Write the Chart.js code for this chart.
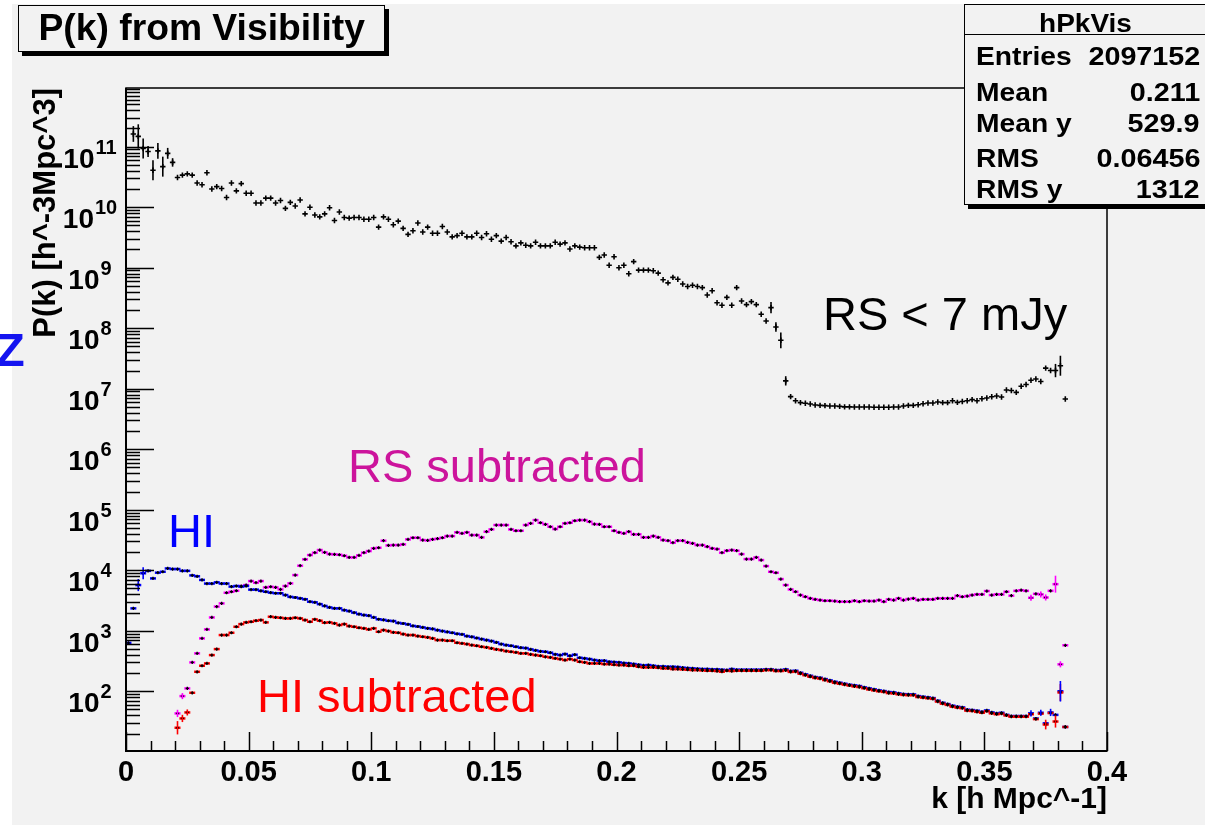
<!DOCTYPE html>
<html>
<head>
<meta charset="utf-8">
<script src="https://cdn.jsdelivr.net/npm/chart.js@4.4.1/dist/chart.umd.min.js"></script>
<style>
  html, body { margin: 0; padding: 0; background: #fff; }
  #wrap { position: relative; width: 1205px; height: 826px; overflow: hidden;
          font-family: "Liberation Sans", Arial, Helvetica, sans-serif; }
  #pk { position: absolute; left: 0; top: 0; }
  .box { position: absolute; background: #f2f2f2; border: 1.5px solid #000; box-shadow: 4px 4px 0 #000; }
  .txt { position: absolute; white-space: nowrap; }
  .stat { position: absolute; font-weight: bold; font-size: 25px; line-height: 25px; white-space: nowrap; }
  .lab { left: 976px; transform: scaleX(1.13); transform-origin: left center; }
  .val { right: 5px; transform: scaleX(1.15); transform-origin: right center; }
  .note { position: absolute; font-size: 47px; line-height: 47px; white-space: nowrap; }
</style>
</head>
<body>
<div id="wrap">
  <canvas id="pk" width="1205" height="826"></canvas>

  <div class="box" style="left:18px; top:5px; width:365px; height:45px;"></div>
  <div class="txt" style="left:18px; top:10px; width:368px; text-align:center; font-weight:bold; font-size:36px; line-height:36px;"><span style="display:inline-block; transform:scaleX(1.035);">P(k) from Visibility</span></div>

  <div class="box" style="left:964px; top:4px; width:260px; height:199px;"></div>
  <div style="position:absolute; left:964px; top:34px; width:260px; height:0; border-top:1.5px solid #000;"></div>
  <div class="stat" style="left:964px; width:242px; top:11px; text-align:center;"><span style="display:inline-block; transform:scaleX(1.12);">hPkVis</span></div>
  <div class="stat lab" style="top:44px;">Entries</div><div class="stat val" style="top:44px;">2097152</div>
  <div class="stat lab" style="top:80px;">Mean</div><div class="stat val" style="top:80px;">0.211</div>
  <div class="stat lab" style="top:111px;">Mean y</div><div class="stat val" style="top:111px;">529.9</div>
  <div class="stat lab" style="top:146px;">RMS</div><div class="stat val" style="top:146px;">0.06456</div>
  <div class="stat lab" style="top:177px;">RMS y</div><div class="stat val" style="top:177px;">1312</div>

  <div class="note" style="left:823px; top:290px; color:#000;">RS &lt; 7 mJy</div>
  <div class="note" style="left:348px; top:442px; color:#cc149c;">RS subtracted</div>
  <div class="note" style="left:168px; top:507px; color:#0000ff;">HI</div>
  <div class="note" style="left:257px; top:672px; color:#ff0000;">HI subtracted</div>
  <div class="note" style="left:-4px; top:326px; color:#1414f0; font-weight:bold;">Z</div>
</div>

<script>
// histogram binning in k [h Mpc^-1]
const kBinWidth = 0.002

// log10 P(k) per bin (null = empty bin)
const rsCutLog = [
  null, 11.21, 11.17, 10.97, 10.92, 10.61, 10.93, 10.67, 10.89, 10.74,
  10.49, 10.53, 10.55, 10.53, 10.40, 10.37, 10.57, 10.30, 10.34, 10.31,
  10.16, 10.40, 10.27, 10.39, 10.23, 10.23, 10.07, 10.07, 10.15, 10.15,
  10.07, 10.11, 9.98, 10.08, 10.02, 10.12, 9.89, 10.00, 9.87, 9.84,
  9.89, 9.99, 9.78, 9.92, 9.83, 9.82, 9.83, 9.83, 9.80, 9.80,
  9.83, 9.67, 9.84, 9.80, 9.71, 9.77, 9.65, 9.55, 9.61, 9.74,
  9.59, 9.67, 9.57, 9.57, 9.68, 9.59, 9.51, 9.53, 9.57, 9.51,
  9.51, 9.57, 9.50, 9.56, 9.47, 9.53, 9.44, 9.50, 9.43, 9.36,
  9.41, 9.37, 9.36, 9.42, 9.36, 9.36, 9.36, 9.42, 9.39, 9.41,
  9.31, 9.36, 9.34, 9.33, 9.33, 9.33, 9.17, 9.21, 9.04, 9.18,
  9.00, 9.04, 8.90, 9.10, 8.96, 8.96, 8.96, 8.95, 8.91, 8.80,
  8.75, 8.84, 8.81, 8.73, 8.69, 8.71, 8.69, 8.67, 8.55, 8.62,
  8.42, 8.38, 8.51, 8.38, 8.67, 8.45, 8.39, 8.44, 8.39, 8.23,
  8.12, 8.34, 8.02, 7.80, 7.13, 6.87, 6.80, 6.77, 6.76, 6.747,
  6.731, 6.725, 6.72, 6.714, 6.714, 6.709, 6.70, 6.70, 6.698, 6.698,
  6.698, 6.698, 6.695, 6.693, 6.693, 6.693, 6.698, 6.698, 6.714, 6.725,
  6.725, 6.736, 6.752, 6.764, 6.764, 6.78, 6.77, 6.77, 6.80, 6.775,
  6.79, 6.80, 6.82, 6.80, 6.835, 6.846, 6.868, 6.879, 6.863, 6.98,
  6.97, 6.94, 7.04, 7.07, 7.14, 7.16, 7.12, 7.34, 7.30, 7.30,
  7.38, 6.83
]

const hiLog = [
  2.80, 3.37, 3.755, 3.95, 3.99, 3.865, 3.96, 3.975, 4.03, 4.02,
  4.02, 3.99, 3.99, 3.915, 3.90, 3.84, 3.78, 3.78, 3.80, 3.78,
  3.78, 3.73, 3.74, 3.73, 3.74, 3.68, 3.68, 3.66, 3.645, 3.63,
  3.62, 3.62, 3.59, 3.56, 3.55, 3.535, 3.52, 3.48, 3.47, 3.44,
  3.41, 3.385, 3.37, 3.37, 3.34, 3.325, 3.30, 3.275, 3.26, 3.25,
  3.22, 3.19, 3.18, 3.165, 3.16, 3.13, 3.12, 3.105, 3.08, 3.07,
  3.055, 3.04, 3.03, 3.01, 2.995, 2.98, 2.967, 2.95, 2.94, 2.912,
  2.90, 2.88, 2.862, 2.846, 2.83, 2.807, 2.78, 2.763, 2.752, 2.736,
  2.72, 2.714, 2.692, 2.675, 2.659, 2.653, 2.637, 2.61, 2.598, 2.615,
  2.587, 2.604, 2.554, 2.543, 2.532, 2.516, 2.505, 2.505, 2.488, 2.482,
  2.477, 2.466, 2.46, 2.45, 2.438, 2.427, 2.433, 2.422, 2.41, 2.41,
  2.405, 2.405, 2.40, 2.39, 2.383, 2.378, 2.372, 2.367, 2.367, 2.361,
  2.361, 2.356, 2.35, 2.367, 2.356, 2.356, 2.356, 2.356, 2.356, 2.356,
  2.361, 2.361, 2.35, 2.35, 2.361, 2.334, 2.339, 2.306, 2.279, 2.256,
  2.234, 2.223, 2.201, 2.179, 2.157, 2.141, 2.124, 2.108, 2.097, 2.086,
  2.064, 2.047, 2.031, 2.014, 2.003, 1.987, 1.981, 1.965, 1.953, 1.948,
  1.948, 1.92, 1.909, 1.898, 1.887, 1.843, 1.81, 1.788, 1.761, 1.744,
  1.733, 1.695, 1.689, 1.678, 1.661, 1.683, 1.65, 1.634, 1.645, 1.61,
  1.59, 1.59, 1.59, 1.59, 1.635, 1.55, 1.645, 1.47, 1.65, 1.61,
  2.0, 1.41
]

const hiSubLog = [
  null, null, null, null, null, null, null, null, null, null,
  1.397, 1.551, 1.65, 1.975, 2.322, 2.422, 2.46, 2.598, 2.697, 2.929,
  2.929, 2.967, 3.066, 3.11, 3.138, 3.149, 3.166, 3.177, 3.138, 3.232,
  3.221, 3.215, 3.204, 3.204, 3.215, 3.204, 3.177, 3.149, 3.188, 3.166,
  3.133, 3.138, 3.122, 3.094, 3.11, 3.077, 3.066, 3.05, 3.039, 3.022,
  3.039, 2.984, 3.011, 2.995, 2.973, 2.967, 2.945, 2.929, 2.929, 2.912,
  2.901, 2.89, 2.874, 2.846, 2.846, 2.835, 2.835, 2.802, 2.791, 2.78,
  2.763, 2.752, 2.736, 2.725, 2.708, 2.692, 2.681, 2.664, 2.653, 2.642,
  2.626, 2.626, 2.609, 2.598, 2.587, 2.57, 2.559, 2.543, 2.532, 2.516,
  2.532, 2.516, 2.488, 2.477, 2.46, 2.46, 2.46, 2.449, 2.449, 2.438,
  2.433, 2.433, 2.422, 2.422, 2.405, 2.394, 2.394, 2.394, 2.389, 2.378,
  2.378, 2.367, 2.367, 2.361, 2.356, 2.35, 2.35, 2.345, 2.339, 2.339,
  2.334, 2.323, 2.339, 2.334, 2.339, 2.339, 2.339, 2.339, 2.339, 2.339,
  2.35, 2.35, 2.335, 2.335, 2.345, 2.32, 2.325, 2.29, 2.265, 2.24,
  2.22, 2.21, 2.185, 2.165, 2.14, 2.125, 2.11, 2.095, 2.08, 2.07,
  2.05, 2.03, 2.015, 2.0, 1.99, 1.97, 1.965, 1.95, 1.94, 1.935,
  1.935, 1.905, 1.895, 1.885, 1.875, 1.83, 1.795, 1.775, 1.745, 1.73,
  1.72, 1.68, 1.675, 1.66, 1.645, 1.67, 1.635, 1.62, 1.63, 1.60,
  1.58, 1.58, 1.58, 1.58, 1.62, 1.54, 1.63, 1.45, 1.64, 1.50,
  1.98, 1.41
]

const rsSubLog = [
  null, null, null, null, null, null, null, null, null, null,
  1.634, 1.92, 2.047, 2.477, 2.626, 2.874, 3.022, 3.22, 3.40, 3.452,
  3.628, 3.645, 3.661, 3.739, 3.755, 3.821, 3.794, 3.821, 3.716, 3.727,
  3.716, 3.683, 3.739, 3.783, 3.92, 4.075, 4.18, 4.251, 4.29, 4.334,
  4.295, 4.267, 4.262, 4.256, 4.24, 4.212, 4.212, 4.245, 4.29, 4.317,
  4.361, 4.372, 4.488, 4.41, 4.416, 4.416, 4.427, 4.51, 4.537, 4.537,
  4.499, 4.493, 4.51, 4.521, 4.537, 4.565, 4.565, 4.626, 4.609, 4.626,
  4.581, 4.581, 4.543, 4.637, 4.675, 4.747, 4.747, 4.747, 4.675, 4.653,
  4.653, 4.747, 4.774, 4.829, 4.785, 4.758, 4.719, 4.681, 4.719, 4.774,
  4.785, 4.818, 4.829, 4.829, 4.802, 4.763, 4.758, 4.719, 4.719, 4.653,
  4.626, 4.609, 4.637, 4.593, 4.593, 4.543, 4.543, 4.565, 4.543, 4.499,
  4.488, 4.455, 4.488, 4.488, 4.46, 4.444, 4.416, 4.416, 4.389, 4.361,
  4.35, 4.29, 4.323, 4.334, 4.323, 4.267, 4.185, 4.185, 4.212, 4.168,
  4.069, 3.975, 3.959, 3.854, 3.755, 3.683, 3.645, 3.59, 3.562, 3.535,
  3.518, 3.507, 3.496, 3.496, 3.491, 3.48, 3.48, 3.48, 3.496, 3.48,
  3.496, 3.491, 3.491, 3.507, 3.48, 3.518, 3.507, 3.535, 3.507, 3.524,
  3.535, 3.507, 3.518, 3.518, 3.518, 3.535, 3.535, 3.535, 3.535, 3.579,
  3.562, 3.573, 3.59, 3.601, 3.601, 3.656, 3.59, 3.601, 3.60, 3.645,
  3.58, 3.66, 3.67, 3.66, 3.545, 3.61, 3.60, 3.55, 3.66, 3.77,
  2.445, 2.76
]

// larger error bars (half size in decades), by bin
const rsCutErrBins = [1, 2, 3, 4, 5, 6, 7, 8, 9, 131, 132, 133, 134, 189, 190]
const rsCutErrLog = [0.13, 0.2, 0.165, 0.09, 0.165, 0.13, 0.165, 0.09, 0.07, 0.094, 0.077, 0.13, 0.077, 0.11, 0.165]
const hiErrBins = [2, 3, 184, 186, 188, 190]
const hiErrLog = [0.1, 0.1, 0.05, 0.05, 0.06, 0.17]
const hiSubErrBins = [10, 11, 12, 187, 189, 190]
const hiSubErrLog = [0.11, 0.06, 0.05, 0.08, 0.1, 0.14]
const rsSubErrBins = [10, 11, 184, 186, 187, 189, 190]
const rsSubErrLog = [0.06, 0.05, 0.05, 0.05, 0.05, 0.14, 0.05]

// axes
const xTickValues = [0, 0.05, 0.1, 0.15, 0.2, 0.25, 0.3, 0.35, 0.4]
const xTickLabels = ['0', '0.05', '0.1', '0.15', '0.2', '0.25', '0.3', '0.35', '0.4']
const yTickExps = [2, 3, 4, 5, 6, 7, 8, 9, 10, 11]
const yMin = 10.3
const yMax = 9.33e11

function toPoints(logs) {
    let pts = []
    logs.forEach((v, i) => {
        if (v !== null) pts.push({ x: (i + 0.5) * kBinWidth, y: Math.pow(10, v) })
    })
    return pts
}

const font = 'Liberation Sans, Arial, Helvetica, sans-serif'

// gray pad behind everything
const padBackground = {
    id: 'padBackground',
    beforeDraw(chart) {
        const ctx = chart.ctx
        ctx.save()
        ctx.fillStyle = '#ffffff'
        ctx.fillRect(0, 0, chart.width, chart.height)
        ctx.fillStyle = '#f2f2f2'
        ctx.fillRect(12, 4, chart.width - 12, chart.height - 5)
        ctx.restore()
    }
}

// vertical error bars for the noisy bins
const errorBars = {
    id: 'errorBars',
    afterDatasetsDraw(chart) {
        const { ctx, chartArea: a, scales: { x, y } } = chart
        ctx.save()
        ctx.beginPath()
        ctx.rect(a.left, a.top, a.right - a.left, a.bottom - a.top)
        ctx.clip()
        chart.data.datasets.forEach(ds => {
            if (!ds.errBins) return
            ctx.strokeStyle = ds.errColor
            ctx.lineWidth = 1.6
            ds.errBins.forEach((b, j) => {
                const v = ds.logs[b]
                if (v === null) return
                const px = x.getPixelForValue((b + 0.5) * kBinWidth)
                ctx.beginPath()
                ctx.moveTo(px, y.getPixelForValue(Math.pow(10, v + ds.errLog[j])))
                ctx.lineTo(px, y.getPixelForValue(Math.pow(10, v - ds.errLog[j])))
                ctx.stroke()
            })
        })
        ctx.restore()
    }
}

// ROOT style frame with ticks drawn inward, and 10^n labels
const rootFrame = {
    id: 'rootFrame',
    afterDraw(chart) {
        const { ctx, chartArea: a, scales: { x, y } } = chart
        ctx.save()
        ctx.strokeStyle = '#000'
        ctx.lineWidth = 1.5
        ctx.strokeRect(a.left, a.top, a.right - a.left, a.bottom - a.top)
        ctx.lineWidth = 2
        ctx.beginPath()
        ctx.moveTo(a.left, a.top)
        ctx.lineTo(a.left, a.bottom)
        ctx.lineTo(a.right, a.bottom)
        ctx.stroke()

        ctx.lineWidth = 1.5
        ctx.beginPath()
        for (let d = 0; d <= 12; d++) {
            for (let m = 1; m <= 9; m++) {
                const v = m * Math.pow(10, d)
                if (v < y.min || v > y.max) continue
                const py = Math.round(y.getPixelForValue(v)) + 0.5
                ctx.moveTo(a.left, py)
                ctx.lineTo(a.left + (m === 1 ? 28 : 14), py)
            }
        }
        for (let j = 0; j <= 40; j++) {
            const px = Math.round(x.getPixelForValue(j / 100)) + 0.5
            ctx.moveTo(px, a.bottom)
            ctx.lineTo(px, a.bottom - (j % 5 === 0 ? 19 : 10))
        }
        ctx.stroke()

        // y labels: "10" with raised exponent, centred left of the axis
        ctx.fillStyle = '#000'
        ctx.textBaseline = 'alphabetic'
        ctx.textAlign = 'left'
        yTickExps.forEach(e => {
            const py = y.getPixelForValue(Math.pow(10, e))
            const base = 'bold 28px ' + font
            const small = 'bold 20px ' + font
            ctx.font = base
            const w1 = ctx.measureText('10').width
            ctx.font = small
            const w2 = ctx.measureText(String(e)).width
            const x0 = 90 - (w1 + w2 + 1) / 2
            ctx.font = base
            ctx.fillText('10', x0, py + 21)
            ctx.font = small
            ctx.fillText(String(e), x0 + w1 + 1, py + 7)
        })
        ctx.restore()
    }
}

function seriesSet(logs, color, errBins, errLog) {
    return [{
        label: 'bins',
        data: toPoints(logs),
        logs: logs,
        pointStyle: 'line',
        pointRadius: 3,
        pointBorderWidth: 2.5,
        borderColor: color,
        backgroundColor: color,
        errBins: errBins,
        errLog: errLog,
        errColor: color
    }, {
        label: 'marker',
        data: toPoints(logs),
        pointStyle: 'cross',
        pointRadius: 1.6,
        pointBorderWidth: 1.3,
        borderColor: '#000',
        backgroundColor: '#000'
    }]
}

const hiSets = seriesSet(hiLog, '#0000ff', hiErrBins, hiErrLog)
const hiSubSets = seriesSet(hiSubLog, '#ff0000', hiSubErrBins, hiSubErrLog)
const rsSubSets = seriesSet(rsSubLog, '#ff00ff', rsSubErrBins, rsSubErrLog)

const rsCutSet = {
    label: 'RS < 7 mJy',
    data: toPoints(rsCutLog),
    logs: rsCutLog,
    pointStyle: 'cross',
    pointRadius: 2.7,
    pointBorderWidth: 1.6,
    borderColor: '#000',
    backgroundColor: '#000',
    errBins: rsCutErrBins,
    errLog: rsCutErrLog,
    errColor: '#000'
}

var ctx = document.getElementById('pk').getContext('2d')
var myChart = new Chart(ctx, {
    type: 'scatter',
    data: {
        // first dataset ends up on top
        datasets: [rsCutSet, hiSubSets[1], hiSets[1], rsSubSets[1], hiSubSets[0], hiSets[0], rsSubSets[0]]
    },
    options: {
        responsive: false,
        animation: false,
        devicePixelRatio: 1,
        events: [],
        layout: { padding: { left: 20, right: 98, top: 88, bottom: 8 } },
        plugins: {
            legend: { display: false },
            tooltip: { enabled: false }
        },
        scales: {
            x: {
                type: 'linear',
                min: 0,
                max: 0.4,
                afterFit: s => { s.height = 67 },
                afterBuildTicks: s => { s.ticks = xTickValues.map(v => ({ value: v })) },
                grid: { display: false, drawTicks: false },
                border: { display: false },
                ticks: {
                    autoSkip: false,
                    maxRotation: 0,
                    padding: 5,
                    color: '#000',
                    font: { family: font, size: 29, weight: 'bold' },
                    callback: (v, i) => xTickLabels[i]
                },
                title: {
                    display: true,
                    text: 'k [h Mpc^-1]',
                    align: 'end',
                    color: '#000',
                    padding: { top: 0, bottom: 0 },
                    font: { family: font, size: 30, weight: 'bold' }
                }
            },
            y: {
                type: 'logarithmic',
                min: yMin,
                max: yMax,
                afterFit: s => { s.width = 106 },
                afterBuildTicks: s => { s.ticks = yTickExps.map(e => ({ value: Math.pow(10, e) })) },
                grid: { display: false, drawTicks: false },
                border: { display: false },
                ticks: { display: false },
                title: {
                    display: true,
                    text: 'P(k) [h^-3Mpc^3]',
                    align: 'end',
                    color: '#000',
                    padding: { top: 8, bottom: 0 },
                    font: { family: font, size: 31, weight: 'bold' }
                }
            }
        }
    },
    plugins: [padBackground, errorBars, rootFrame]
})
</script>
</body>
</html>
